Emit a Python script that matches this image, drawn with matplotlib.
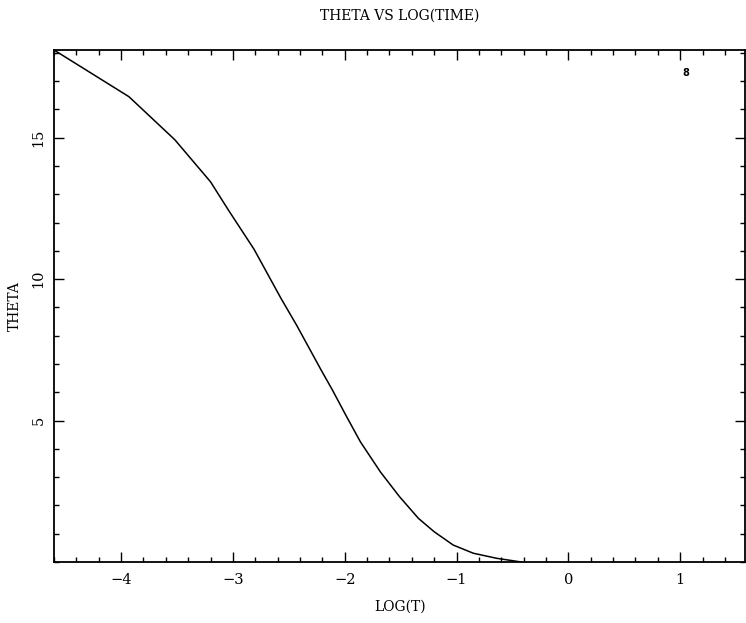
import matplotlib
matplotlib.use("Agg")
import matplotlib.pyplot as plt
from matplotlib.ticker import MultipleLocator, FixedLocator

# values
log_t = [-4.6, -3.93, -3.52, -3.20, -3.04, -2.81, -2.57, -2.43, -2.21, -2.11,
         -1.99, -1.86, -1.68, -1.51, -1.34, -1.20, -1.03, -0.85, -0.64, -0.42]
theta = [18.1, 16.45, 14.93, 13.44, 12.44, 11.05, 9.32, 8.37, 6.78, 6.08,
         5.19, 4.25, 3.18, 2.31, 1.54, 1.07, 0.60, 0.31, 0.13, 0.0]
x_major = [-4, -3, -2, -1, 0, 1]
y_major = [5, 10, 15]
curve_tag = "8"
tag_pos = (1.05, 17.28)

plt.rcParams["font.family"] = ["DejaVu Serif"]

fig = plt.figure(figsize=(7.46, 6.23), dpi=100)
W, H = 746, 623
ax = fig.add_axes([54 / W, 1 - 562 / H, (745 - 54) / W, (562 - 50) / H])

ax.plot(log_t, theta, color="black", linewidth=1.1)
ax.text(tag_pos[0], tag_pos[1], curve_tag, fontsize=7, fontweight="bold",
        ha="center", va="center", family="DejaVu Sans")

ax.set_xlim(-4.6, 1.58)
ax.set_ylim(0, 18.1)

ax.xaxis.set_major_locator(FixedLocator(x_major))
ax.xaxis.set_minor_locator(MultipleLocator(0.2))
ax.yaxis.set_major_locator(FixedLocator(y_major))
ax.yaxis.set_minor_locator(MultipleLocator(1))
ax.tick_params(which="both", direction="in", top=True, right=True,
               width=1.0, colors="black", labelsize=10.5)
ax.tick_params(which="major", length=7)
ax.tick_params(which="minor", length=3.5)
ax.tick_params(axis="x", pad=8)
ax.tick_params(axis="y", pad=6)
for lbl in ax.get_yticklabels():
    lbl.set_rotation(90)
    lbl.set_va("center")

for s in ax.spines.values():
    s.set_linewidth(1.3)

ax.set_xlabel("LOG(T)", fontsize=10, va="center")
ax.set_ylabel("THETA", fontsize=10, va="center")
ax.xaxis.set_label_coords(346 / 691, -45 / 512)
ax.yaxis.set_label_coords(-39 / 691, 0.5)
ax.set_title("THETA VS LOG(TIME)", fontsize=10, pad=22)

fig.savefig("out.png", dpi=100)
